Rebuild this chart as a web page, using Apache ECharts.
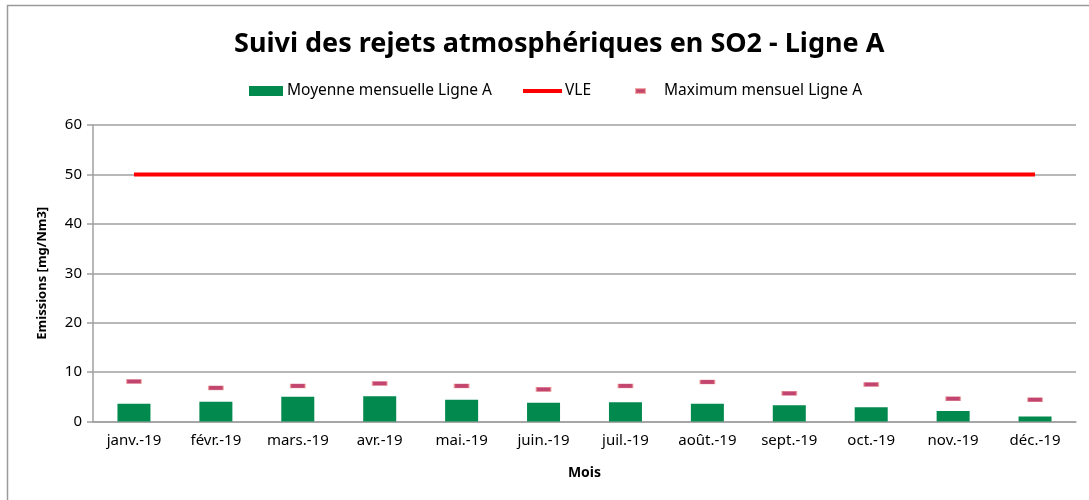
<!DOCTYPE html>
<html>
<head>
<meta charset="utf-8">
<title>Suivi des rejets SO2</title>
<script src="https://cdn.jsdelivr.net/npm/echarts@6/dist/echarts.min.js"></script>
<style>
	html, body {margin: 0; padding: 0; background: #fff;}
	#chart {width: 1089px; height: 500px;}
</style>
</head>
<body>
<div id="chart"></div>
<script type="text/javascript">
var months = ['janv.-19', 'févr.-19', 'mars.-19', 'avr.-19', 'mai.-19', 'juin.-19', 'juil.-19', 'août.-19', 'sept.-19', 'oct.-19', 'nov.-19', 'déc.-19'];
var moyenne = [3.6, 4.0, 5.0, 5.1, 4.4, 3.8, 3.9, 3.6, 3.3, 2.9, 2.1, 1.0];
var maximum = [8.1, 6.8, 7.2, 7.7, 7.2, 6.5, 7.2, 8.0, 5.7, 7.5, 4.6, 4.4];
var vle = [50, 50, 50, 50, 50, 50, 50, 50, 50, 50, 50, 50];

var font = 'Noto Sans';
var chart = echarts.init(document.getElementById('chart'));
var option = {
	animation: false,
	title: {
		text: 'Suivi des rejets atmosphériques en SO2 - Ligne A',
		left: 229,
		top: 26,
		textStyle: {fontFamily: font, fontSize: 27, fontWeight: 'bold', color: '#000'}
	},
	graphic: [{
		type: 'rect',
		shape: {x: 7.5, y: 5.5, width: 1100, height: 600},
		style: {fill: 'none', stroke: '#9a9a9a', lineWidth: 1.5},
		silent: true
	}],
	legend: [{
		data: ['Moyenne mensuelle Ligne A'],
		left: 244, top: 78,
		icon: 'rect', itemWidth: 34, itemHeight: 10, itemGap: 0,
		textStyle: {fontFamily: font, fontSize: 15.5, color: '#000', padding: [0, 0, 0, -1]}
	}, {
		data: ['VLE'],
		left: 518, top: 78,
		icon: 'rect', itemWidth: 39, itemHeight: 4,
		textStyle: {fontFamily: font, fontSize: 15.5, color: '#000', padding: [0, 0, 0, -2]}
	}, {
		data: ['Maximum mensuel Ligne A'],
		left: 630, top: 78,
		icon: 'rect', itemWidth: 9, itemHeight: 4,
		textStyle: {fontFamily: font, fontSize: 15.5, color: '#000', padding: [0, 0, 0, 14]}
	}],
	grid: {left: 93, right: 13, top: 125, bottom: 78.5, containLabel: false},
	xAxis: {
		type: 'category',
		data: months,
		name: 'Mois',
		nameLocation: 'middle',
		nameGap: 45,
		nameTextStyle: {fontFamily: font, fontSize: 14, fontWeight: 'bold', color: '#000'},
		axisLine: {lineStyle: {color: '#a0a0a0', width: 1.5}},
		axisTick: {show: false},
		axisLabel: {fontFamily: font, fontSize: 15, color: '#000', margin: 12, interval: 0, hideOverlap: false}
	},
	yAxis: {
		type: 'value',
		min: 0, max: 60, interval: 10,
		name: 'Emissions [mg/Nm3]',
		nameLocation: 'middle',
		nameGap: 44,
		nameTextStyle: {fontFamily: font, fontSize: 13, fontWeight: 'bold', color: '#000'},
		axisLine: {show: true, lineStyle: {color: '#a0a0a0', width: 1.5}},
		axisTick: {show: true, length: 6, lineStyle: {color: '#a0a0a0', width: 1.5}},
		axisLabel: {fontFamily: font, fontSize: 15, color: '#000', margin: 11},
		splitLine: {lineStyle: {color: '#a0a0a0', width: 1.5}}
	},
	series: [{
		name: 'Moyenne mensuelle Ligne A',
		type: 'bar',
		data: moyenne,
		barWidth: 33,
		itemStyle: {color: '#02894e'}
	}, {
		name: 'VLE',
		type: 'line',
		data: vle,
		symbol: 'none',
		lineStyle: {color: '#ff0000', width: 4},
		itemStyle: {color: '#ff0000'}
	}, {
		name: 'Maximum mensuel Ligne A',
		type: 'scatter',
		data: maximum,
		symbol: 'rect',
		symbolSize: [14, 4],
		itemStyle: {color: '#b3154d', borderColor: 'rgba(225,105,105,0.7)', borderWidth: 1}
	}]
};
chart.setOption(option);
</script>
</body>
</html>
